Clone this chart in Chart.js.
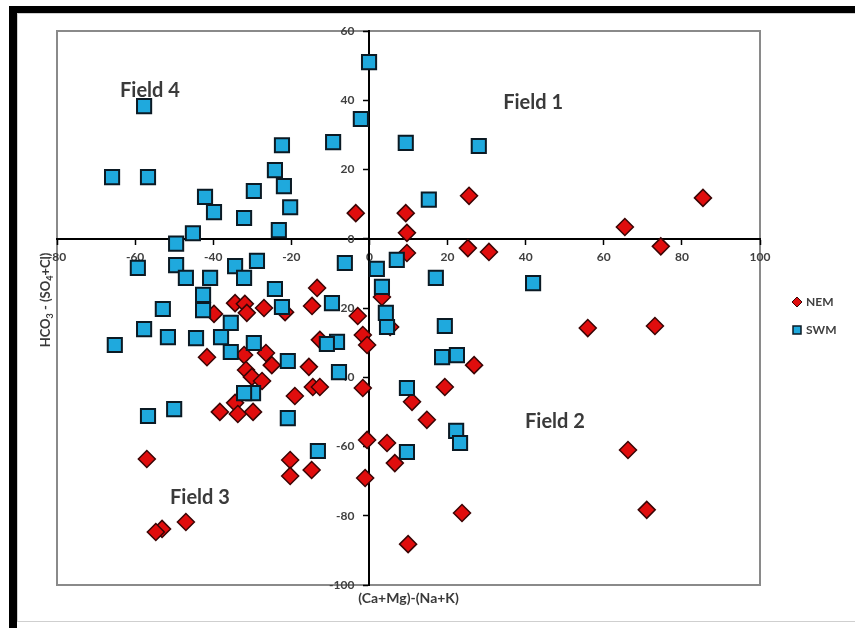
<!DOCTYPE html>
<html>
<head>
<meta charset="utf-8">
<title>(Ca+Mg)-(Na+K) vs HCO3 - (SO4+Cl)</title>
<script src="https://cdn.jsdelivr.net/npm/chart.js@4.4.1/dist/chart.umd.min.js"></script>
<style>
  html, body { margin: 0; padding: 0; background: #fff; overflow: hidden; }
  #wrap { position: relative; width: 855px; height: 628px; }
</style>
</head>
<body>
<div id="wrap"><canvas id="c"></canvas></div>
<script>
// Axis ticks
const xTicks = [-80, -60, -40, -20, 0, 20, 40, 60, 80, 100];
const yTicks = [-100, -80, -60, -40, -20, 0, 20, 40, 60];

// NEM samples: (Ca+Mg)-(Na+K) and HCO3-(SO4+Cl)
const nemX = [-3.5, 9.3, 25.5, 65.4, 85.4, 74.6, 9.6, 9.6, 25.2, 30.6,
              55.9, 73.1, 66.2, 71.0, 23.7, 9.9, -57.0, -47.0, -53.1, -54.7,
              -39.8, -34.4, -31.9, -31.4, -27.0, -21.6, -41.6, -32.1, -26.5, -25.0,
              -31.6, -30.1, -27.5, -19.1, -34.4, -38.3, -33.7, -29.8, -13.4, -14.7,
              3.2, -3.0, -1.7, -0.6, 5.3, -12.7, -15.5, 26.8, -14.5, -12.7,
              -1.7, 19.3, 10.9, 14.7, -0.6, 4.5, 6.5, -20.3, -14.8, -20.3, -1.1];
const nemY = [7.4, 7.4, 12.4, 3.4, 11.8, -2.2, 1.7, -4.1, -2.7, -3.8,
              -25.8, -25.2, -61.0, -78.3, -79.2, -88.2, -63.6, -81.8, -83.8, -84.7,
              -21.7, -18.6, -18.8, -21.4, -20.0, -21.2, -34.2, -33.6, -33.0, -36.5,
              -37.9, -39.9, -41.1, -45.4, -47.4, -50.0, -50.6, -50.0, -14.2, -19.4,
              -16.8, -22.3, -27.8, -30.7, -25.5, -29.2, -37.0, -36.5, -42.8, -42.8,
              -43.1, -42.8, -47.1, -52.3, -58.1, -59.0, -64.8, -63.9, -66.8, -68.5, -69.1];

// SWM samples
const swmX = [-0.1, -2.2, -9.3, -57.7, -65.9, -56.7, 9.3, 28.0, -22.4, -24.2,
              -21.9, -20.3, -29.6, -32.1, -42.1, -39.8, -45.2, -23.2, 15.2, -49.5,
              -59.3, -49.5, -47.0, -40.8, -34.4, -32.1, -28.8, -6.3, 1.9, 7.0,
              17.0, 41.9, 3.2, -42.6, -42.6, -52.9, -24.2, -22.4, -9.6, 4.2,
              4.5, 19.3, -35.5, -57.7, -51.6, -44.4, -38.0, -65.2, -35.5, -29.6,
              -8.3, -10.9, -20.9, 18.6, 22.4, -7.8, -29.8, -32.1, 9.6, -50.0,
              -56.7, -20.9, 22.2, 23.2, -13.2, 9.6];
const swmY = [51.0, 34.6, 27.9, 38.3, 17.8, 17.8, 27.7, 26.8, 27.0, 19.8,
              15.2, 9.1, 13.8, 6.0, 12.1, 7.7, 1.6, 2.5, 11.3, -1.4,
              -8.4, -7.6, -11.3, -11.3, -7.9, -11.3, -6.4, -7.0, -8.7, -6.1,
              -11.3, -12.8, -13.9, -16.2, -20.6, -20.3, -14.5, -19.7, -18.6, -21.4,
              -25.5, -25.2, -24.3, -26.1, -28.4, -28.7, -28.4, -30.7, -32.7, -30.1,
              -29.8, -30.4, -35.3, -34.2, -33.6, -38.5, -44.6, -44.6, -43.1, -49.2,
              -51.2, -51.8, -55.5, -59.0, -61.3, -61.6];

const seriesNames = ['NEM', 'SWM'];
const fieldNames = ['Field 1', 'Field 2', 'Field 3', 'Field 4'];
const xTitle = '(Ca+Mg)-(Na+K)';

const toPoints = (xs, ys) => xs.map((x, i) => ({x: x, y: ys[i]}));

const NEM_FILL = '#e00d0d', NEM_EDGE = '#3a0505';
const SWM_FILL = '#1fa9dd', SWM_EDGE = '#0b1a24';
const TEXT = '#404040';
const FONT = 'Lato, "Open Sans", "DejaVu Sans", sans-serif';

// Field captions, anchored in data units
const fieldAnchors = [
  {text: fieldNames[0], x: 41.9, y: 39.2},
  {text: fieldNames[1], x: 47.5, y: -52.9},
  {text: fieldNames[2], x: -43.4, y: -74.6},
  {text: fieldNames[3], x: -56.2, y: 42.7}
];

const decor = {
  id: 'decor',
  beforeDraw(chart) {
    // value labels of the vertical axis sit a little left of the axis line
    chart.scales.y.getLabelItems().forEach(it => {
      if (!it._moved) { it.options.translation[0] -= 15; it._moved = true; }
    });
    const ctx = chart.ctx, a = chart.chartArea;
    ctx.save();
    ctx.fillStyle = '#fff';
    ctx.fillRect(0, 0, chart.width, chart.height);
    // window frame
    ctx.fillStyle = '#000';
    ctx.fillRect(9, 6, 8, chart.height - 6);
    ctx.fillRect(9, 6, chart.width - 9, 7);
    ctx.strokeStyle = '#cfcfcf';
    ctx.lineWidth = 1;
    ctx.beginPath();
    ctx.moveTo(17.5, 13); ctx.lineTo(17.5, 621);
    ctx.moveTo(17, 13.5); ctx.lineTo(chart.width, 13.5);
    ctx.moveTo(17, 621.5); ctx.lineTo(chart.width, 621.5);
    ctx.stroke();
    // plot box
    ctx.strokeStyle = '#8a8a8a';
    ctx.lineWidth = 2;
    ctx.strokeRect(a.left, a.top, a.right - a.left, a.bottom - a.top);
    ctx.restore();
  },
  afterDraw(chart) {
    const ctx = chart.ctx, a = chart.chartArea;
    const sx = chart.scales.x, sy = chart.scales.y;
    ctx.save();
    ctx.fillStyle = '#3a3a3a';
    // field captions
    ctx.font = 'bold 20px ' + FONT;
    ctx.textAlign = 'center';
    ctx.textBaseline = 'middle';
    fieldAnchors.forEach(f => {
      ctx.fillText(f.text, sx.getPixelForValue(f.x), sy.getPixelForValue(f.y));
    });
    // x title
    ctx.font = 'bold 14px ' + FONT;
    ctx.fillText(xTitle, (a.left + a.right) / 2, 598);
    // y title with subscripts
    const parts = [
      {t: 'HCO', sub: false}, {t: '3', sub: true}, {t: ' - (SO', sub: false},
      {t: '4', sub: true}, {t: '+Cl)', sub: false}
    ];
    const big = 'bold 13px ' + FONT, small = 'bold 9px ' + FONT;
    let total = 0;
    parts.forEach(p => { ctx.font = p.sub ? small : big; total += ctx.measureText(p.t).width; });
    ctx.translate(46, 300);
    ctx.rotate(-Math.PI / 2);
    ctx.textAlign = 'left';
    ctx.textBaseline = 'middle';
    let cx = -total / 2;
    parts.forEach(p => {
      ctx.font = p.sub ? small : big;
      ctx.fillText(p.t, cx, p.sub ? 4 : 0);
      cx += ctx.measureText(p.t).width;
    });
    ctx.restore();

    // legend
    ctx.save();
    ctx.font = 'bold 12px ' + FONT;
    ctx.textAlign = 'left';
    ctx.textBaseline = 'middle';
    const lx = 797;
    const rows = [{y: 302, name: seriesNames[0]}, {y: 330, name: seriesNames[1]}];
    // diamond
    ctx.beginPath();
    ctx.moveTo(lx, rows[0].y - 5); ctx.lineTo(lx + 5, rows[0].y);
    ctx.lineTo(lx, rows[0].y + 5); ctx.lineTo(lx - 5, rows[0].y); ctx.closePath();
    ctx.fillStyle = NEM_FILL; ctx.fill();
    ctx.strokeStyle = NEM_EDGE; ctx.lineWidth = 1; ctx.stroke();
    // square
    ctx.fillStyle = SWM_FILL;
    ctx.fillRect(lx - 4, rows[1].y - 4, 8, 8);
    ctx.strokeStyle = SWM_EDGE; ctx.lineWidth = 1.5;
    ctx.strokeRect(lx - 4, rows[1].y - 4, 8, 8);
    ctx.fillStyle = TEXT;
    rows.forEach(r => ctx.fillText(r.name, lx + 9, r.y));
    ctx.restore();
  }
};

new Chart(document.getElementById('c'), {
  type: 'scatter',
  data: {
    datasets: [
      {
        label: seriesNames[0],
        data: toPoints(nemX, nemY),
        pointStyle: 'rectRot',
        pointRadius: 8.5,
        pointHoverRadius: 8.5,
        backgroundColor: NEM_FILL,
        borderColor: NEM_EDGE,
        borderWidth: 1.5,
        order: 1
      },
      {
        label: seriesNames[1],
        data: toPoints(swmX, swmY),
        pointStyle: 'rect',
        pointRadius: 10,
        pointHoverRadius: 10,
        backgroundColor: SWM_FILL,
        borderColor: SWM_EDGE,
        borderWidth: 2,
        order: 0
      }
    ]
  },
  options: {
    responsive: true,
    maintainAspectRatio: false,
    devicePixelRatio: 1,
    animation: false,
    events: [],
    layout: { autoPadding: false, padding: { left: 57, top: 31, right: 95, bottom: 43 } },
    plugins: { legend: { display: false }, tooltip: { enabled: false } },
    scales: {
      x: {
        type: 'linear',
        position: { y: 0 },
        min: -80, max: 100,
        afterBuildTicks: s => { s.ticks = xTicks.map(v => ({value: v})); },
        grid: { drawOnChartArea: false, drawTicks: true, tickLength: 5, tickColor: '#000', tickWidth: 1.5 },
        border: { color: '#000', width: 2 },
        ticks: { autoSkip: false, maxRotation: 0, padding: 6, color: TEXT,
                 font: { family: FONT, size: 12, weight: 'bold' } }
      },
      y: {
        type: 'linear',
        position: { x: 0 },
        min: -100, max: 60,
        afterBuildTicks: s => { s.ticks = yTicks.map(v => ({value: v})); },
        grid: { drawOnChartArea: false, drawTicks: true, tickLength: 5, tickColor: '#000', tickWidth: 1.5 },
        border: { color: '#000', width: 2 },
        ticks: { autoSkip: false, padding: 4, color: TEXT,
                 font: { family: FONT, size: 12, weight: 'bold' } }
      }
    }
  },
  plugins: [decor]
});
</script>
</body>
</html>
